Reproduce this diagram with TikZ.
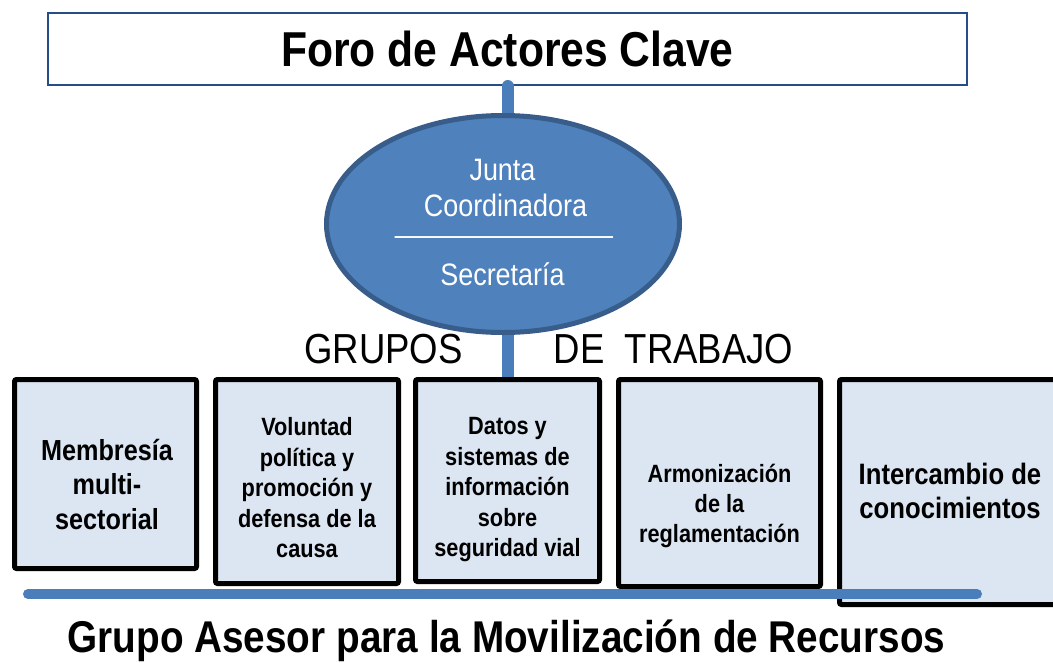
\documentclass[tikz,border=0pt]{standalone}
\usepackage{fontspec}
\setmainfont[FakeStretch=0.87]{Liberation Sans}
\usetikzlibrary{shapes.geometric}
\definecolor{boxfill}{HTML}{DCE6F2}
\definecolor{ellfill}{HTML}{4F81BD}
\definecolor{elldraw}{HTML}{385D8A}
\definecolor{connblue}{HTML}{4A7EBB}
\definecolor{topdraw}{HTML}{264E86}
\pgfdeclarelayer{back}\pgfdeclarelayer{mid}\pgfdeclarelayer{front}
\pgfsetlayers{back,mid,main,front}
\tikzset{
 topbox/.style={draw=topdraw, line width=2pt, fill=white, minimum width=919pt, minimum height=72pt, inner sep=0pt, font=\fontsize{49}{58}\selectfont\bfseries},
 jcell/.style={ellipse, draw=elldraw, fill=ellfill, line width=5pt, minimum width=353pt, minimum height=217pt, inner sep=0pt},
 elltext/.style={text=white, font=\fontsize{31}{37}\selectfont, anchor=base, inner sep=0pt},
 groupbox/.style={draw=black, fill=boxfill, line width=5pt, rounded corners=2pt, inner sep=0pt},
 boxtext/.style={align=center, inner sep=0pt, text=black},
 conn/.style={draw=connblue, line width=12pt, line cap=round},
 barline/.style={draw=connblue, line width=10pt, line cap=round},
 heading/.style={font=\fontsize{42}{50}\selectfont, anchor=base, inner sep=0pt},
 bottomtitle/.style={font=\fontsize{44.5}{52}\selectfont\bfseries, anchor=base, inner sep=0pt},
}
\begin{document}
\begin{tikzpicture}[x=1pt,y=-1pt]
\begin{pgfonlayer}{back}
\fill[white] (0,0) rectangle (1053,662);
\end{pgfonlayer}
\useasboundingbox (0,0) rectangle (1053,662);
% top box
\begin{pgfonlayer}{back}
\node[topbox] (fac) at (507.5,49) {Foro de Actores Clave};
\end{pgfonlayer}
% ellipse
\node[jcell] (jc) at (503,224) {};
\node[elltext] (jc1) at (502.5,180) {Junta};
\node[elltext] (jc2) at (505.5,216) {Coordinadora};
\node[elltext, font=\fontsize{30}{36}\selectfont, text height=0pt, text depth=7pt] (jcrule) at (504,232.6) {\_\_\_\_\_\_\_\_\_\_\_\_\_\_\_};
\node[elltext] (jc3) at (502.5,285) {Secretaría};
% heading
\node[heading] (gt1) at (383.5,363) {GRUPOS};
\node[heading] (gt2) at (673.5,363) {DE\ \ TRABAJO};
% boxes
\node[groupbox, minimum width=182pt, minimum height=189pt] (b1) at (105.5,474) {};
\node[groupbox, minimum width=183pt, minimum height=204pt] (b2) at (307,481.5) {};
\node[groupbox, minimum width=184pt, minimum height=202pt] (b3) at (507.5,480.5) {};
\node[groupbox, minimum width=202pt, minimum height=207pt] (b4) at (719.5,483) {};
\node[groupbox, minimum width=221pt, minimum height=225pt] (b5) at (950,492) {};
\node[boxtext, font=\fontsize{29}{34.5}\selectfont\bfseries] (t1) at (107,484) {Membresía\\multi-\\sectorial};
\node[boxtext, font=\fontsize{25}{30.5}\selectfont\bfseries] (t2) at (307,488) {Voluntad\\política y\\promoción y\\defensa de la\\causa};
\node[boxtext, font=\fontsize{25}{30.5}\selectfont\bfseries] (t3) at (507.5,490) {Datos y\\sistemas de\\información\\sobre\\seguridad vial};
\node[boxtext, font=\fontsize{25}{30}\selectfont\bfseries] (t4) at (719.5,505.5) {Armonización\\de la\\reglamentación};
\node[boxtext, font=\fontsize{29.5}{34}\selectfont\bfseries] (t5) at (950,490.5) {Intercambio de\\conocimientos};
% connectors
\begin{pgfonlayer}{mid}
\draw[conn] (fac.south) -- (fac.south |- jc.north);
\draw[conn] (jc.south -| b3.north) -- (b3.north);
\end{pgfonlayer}
% bar
\coordinate (barL) at (28,594);
\coordinate (barR) at (977,594);
\begin{pgfonlayer}{front}
\draw[barline] (barL) -- (barR);
\end{pgfonlayer}
\node[bottomtitle] (gam) at (506.5,652) {Grupo Asesor para la Movilización de Recursos};
\end{tikzpicture}
\end{document}
